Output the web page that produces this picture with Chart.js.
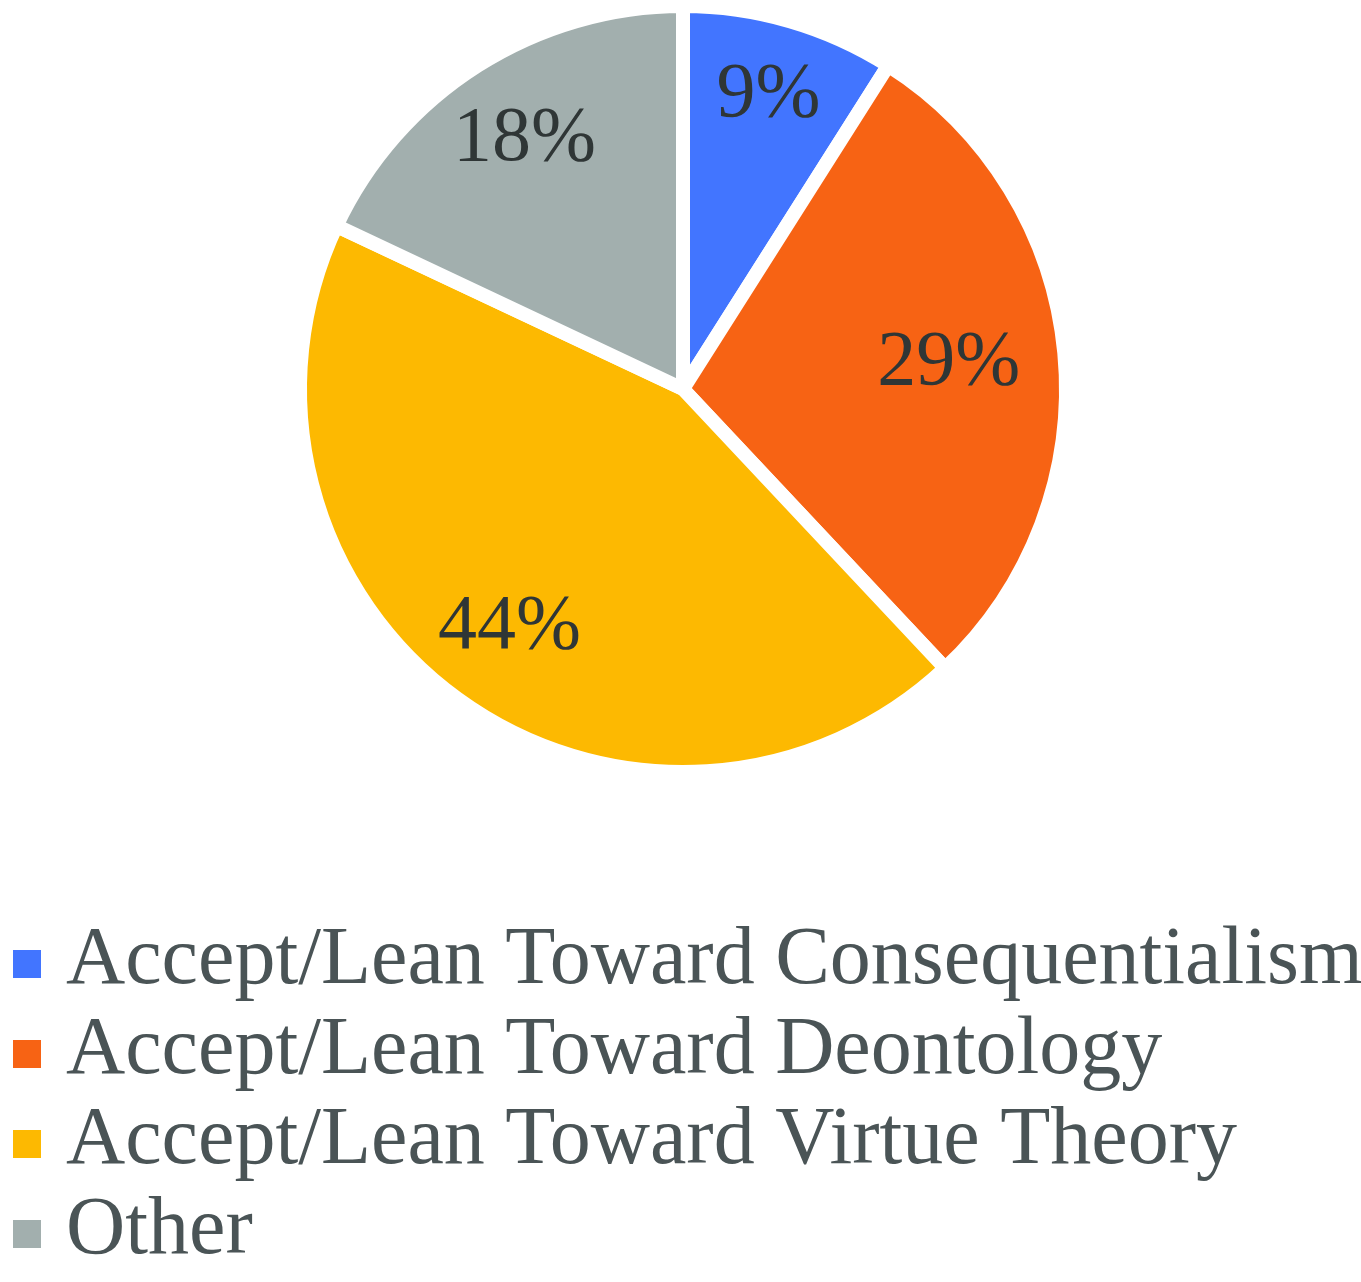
<!DOCTYPE html>
<html><head><meta charset="utf-8">
<script src="https://cdn.jsdelivr.net/npm/chart.js@4.4.1/dist/chart.umd.min.js"></script>
<style>html,body{margin:0;padding:0;background:#fff;} #c{display:block;}</style>
</head><body>
<canvas id="c" width="1361" height="1282"></canvas>
<script>
const categories = ['Accept/Lean Toward Consequentialism', 'Accept/Lean Toward Deontology', 'Accept/Lean Toward Virtue Theory', 'Other'];
const shares = [9, 29, 44, 18];
const sliceColors = ['#4275FF', '#F76314', '#FDB901', '#A2AFAE'];
const labelRadius = [0.814, 0.71, 0.785, 0.787];

const SERIF = '"Liberation Serif", "Times New Roman", serif';
const BORDER = 14;
const RADIUS = 383;

function legendSwatch(color) {
  const c = document.createElement('canvas');
  c.width = 44; c.height = 34;
  const g = c.getContext('2d');
  g.fillStyle = color;
  g.fillRect(16, 6, 28, 28);
  return c;
}

const pctLabels = {
  id: 'pctLabels',
  afterDatasetsDraw(chart, args, opts) {
    const meta = chart.getDatasetMeta(0);
    const data = chart.data.datasets[0].data;
    const total = data.reduce((a, b) => a + b, 0);
    const ctx = chart.ctx;
    ctx.save();
    ctx.font = opts.size + 'px ' + SERIF;
    ctx.fillStyle = opts.color;
    ctx.textAlign = 'center';
    ctx.textBaseline = 'middle';
    meta.data.forEach((arc, i) => {
      const p = arc.getProps(['x', 'y', 'startAngle', 'endAngle', 'outerRadius'], true);
      const mid = (p.startAngle + p.endAngle) / 2;
      const r = (p.outerRadius - BORDER / 2) * opts.radius[i];
      ctx.fillText(Math.round(data[i] / total * 100) + '%', p.x + Math.cos(mid) * r, p.y + Math.sin(mid) * r);
    });
    ctx.restore();
  }
};

new Chart(document.getElementById('c'), {
  type: 'pie',
  data: {
    labels: categories,
    datasets: [{
      data: shares,
      backgroundColor: sliceColors,
      borderColor: '#ffffff',
      borderWidth: BORDER,
      hoverBorderWidth: BORDER,
      radius: RADIUS
    }]
  },
  options: {
    responsive: false,
    animation: false,
    radius: RADIUS,
    layout: { padding: { left: 5, right: 0, top: 0, bottom: 0 } },
    plugins: {
      tooltip: { enabled: false },
      pctLabels: { size: 78, color: '#2F3636', radius: labelRadius },
      legend: {
        position: 'bottom',
        align: 'start',
        title: { display: true, text: '', font: { size: 10, lineHeight: 1 }, padding: { top: 124, bottom: 0 } },
        labels: {
          usePointStyle: true,
          pointStyleWidth: 12,
          boxHeight: 28,
          padding: 8,
          color: '#4A5456',
          font: { family: SERIF, size: 82 },
          generateLabels(chart) {
            const ds = chart.data.datasets[0];
            return chart.data.labels.map((t, i) => ({
              text: t,
              fillStyle: ds.backgroundColor[i],
              strokeStyle: ds.backgroundColor[i],
              lineWidth: 0,
              pointStyle: legendSwatch(ds.backgroundColor[i]),
              fontColor: '#4A5456',
              hidden: false,
              index: i
            }));
          }
        }
      }
    }
  },
  plugins: [pctLabels]
});
</script>
</body></html>
